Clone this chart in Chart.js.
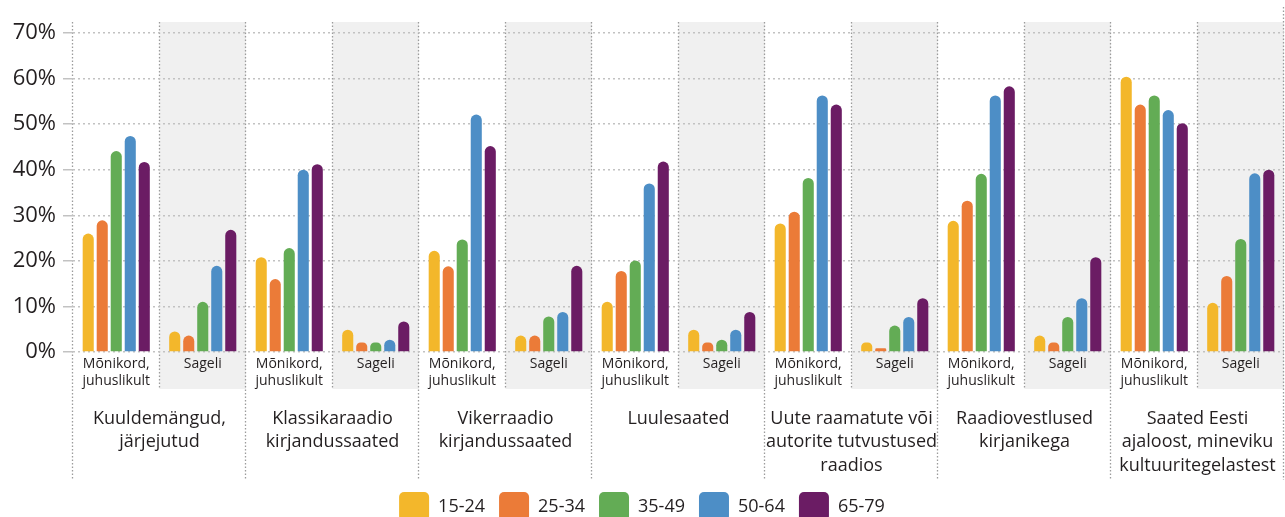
<!DOCTYPE html>
<html>
<head>
<meta charset="utf-8">
<script src="https://cdn.jsdelivr.net/npm/chart.js@4.4.1/dist/chart.umd.min.js"></script>
<style>
  html, body { margin: 0; padding: 0; background: #fff; }
  #wrap { width: 1285px; height: 517px; }
</style>
</head>
<body>
<div id="wrap"><canvas id="chart"></canvas></div>
<script>
// Kirjandussaadete kuulamine vanuserühmade kaupa

// ─── ANDMED ─────────────────────────────────────────────────────────────
const subLabels = [
  ['Mõnikord,', 'juhuslikult'], 'Sageli',
  ['Mõnikord,', 'juhuslikult'], 'Sageli',
  ['Mõnikord,', 'juhuslikult'], 'Sageli',
  ['Mõnikord,', 'juhuslikult'], 'Sageli',
  ['Mõnikord,', 'juhuslikult'], 'Sageli',
  ['Mõnikord,', 'juhuslikult'], 'Sageli',
  ['Mõnikord,', 'juhuslikult'], 'Sageli'
];

const categories = [
  ['Kuuldemängud,', 'järjejutud'],
  ['Klassikaraadio', 'kirjandussaated'],
  ['Vikerraadio', 'kirjandussaated'],
  ['Luulesaated'],
  ['Uute raamatute või', 'autorite tutvustused', 'raadios'],
  ['Raadiovestlused', 'kirjanikega'],
  ['Saated Eesti', 'ajaloost, mineviku', 'kultuuritegelastest']
];

const ageGroups = ['15-24', '25-34', '35-49', '50-64', '65-79'];

const age1524 = [26, 4.5, 20.8, 4.9, 22.2, 3.6, 11, 4.9, 28.2, 2.1, 28.8, 3.6, 60.4, 10.8];
const age2534 = [28.9, 3.6, 16, 2.1, 18.8, 3.6, 17.8, 2.1, 30.8, 0.8, 33.2, 2.1, 54.3, 16.7];
const age3549 = [44.1, 11, 22.8, 2.1, 24.7, 7.8, 20.1, 2.7, 38.2, 5.8, 39.1, 7.7, 56.3, 24.8];
const age5064 = [47.4, 18.9, 40, 2.7, 52.1, 8.8, 37, 4.9, 56.3, 7.7, 56.3, 11.8, 53.1, 39.2];
const age6579 = [41.7, 26.8, 41.2, 6.7, 45.2, 18.9, 41.8, 8.8, 54.3, 11.8, 58.3, 20.8, 50.2, 40];

const colors = ['#f3b72b', '#eb7b38', '#63ac55', '#4d8ec6', '#6b1c64'];

const yTicks = [0, 10, 20, 30, 40, 50, 60, 70];

const FONT = "'Open Sans', 'Noto Sans', sans-serif";
const TEXT = '#231f20';

// ─── TAUST: hallid "Sageli" veerud ja punktiirjooned ────────────────────
const backdrop = {
  id: 'backdrop',
  beforeDraw(chart) {
    const { ctx, chartArea, scales: { x } } = chart;
    const w = (chartArea.right - chartArea.left) / subLabels.length;
    const top = chartArea.top - 11;

    ctx.save();
    ctx.fillStyle = '#f0f0f0';
    subLabels.forEach((l, i) => {
      if (i % 2 === 1) {
        ctx.fillRect(x.getPixelForValue(i) - w / 2, top, w, chartArea.bottom + 37 - top);
      }
    });

    ctx.strokeStyle = '#9c9c9c';
    ctx.lineWidth = 1.3;
    ctx.setLineDash([1.5, 2]);
    for (let k = 0; k <= subLabels.length; k++) {
      const px = Math.round(chartArea.left + k * w) - 0.5;
      const major = k % 2 === 0;
      const y0 = k === subLabels.length ? 7 : top;
      const y1 = major ? chartArea.bottom + 128 : chartArea.bottom + 37;
      ctx.beginPath();
      ctx.moveTo(px, y0);
      ctx.lineTo(px, y1);
      ctx.stroke();
    }
    ctx.restore();
  }
};

// ─── GRAAFIK ────────────────────────────────────────────────────────────
const series = [age1524, age2534, age3549, age5064, age6579];

new Chart(document.getElementById('chart'), {
  type: 'bar',
  data: {
    labels: subLabels,
    datasets: series.map((data, i) => ({
      label: ageGroups[i],
      data,
      backgroundColor: colors[i],
      borderRadius: 8,
      borderSkipped: 'start',
      categoryPercentage: 0.81,
      barPercentage: 0.79
    }))
  },
  options: {
    responsive: true,
    maintainAspectRatio: false,
    animation: false,
    layout: { padding: { top: 33, right: 1, left: 0, bottom: -14 } },
    plugins: {
      tooltip: { enabled: false },
      legend: {
        position: 'bottom',
        labels: {
          boxWidth: 30,
          boxHeight: 29,
          useBorderRadius: true,
          borderRadius: 5,
          padding: 14,
          color: TEXT,
          font: { family: FONT, size: 18 }
        }
      }
    },
    scales: {
      x: {
        weight: 0,
        grid: { display: false, drawTicks: false },
        border: { display: false },
        ticks: {
          autoSkip: false,
          maxRotation: 0,
          padding: 3,
          color: TEXT,
          font: { family: FONT, size: 14, lineHeight: 1.25 }
        },
        afterFit: s => { s.height = 50; }
      },
      x2: {
        type: 'category',
        labels: categories,
        position: 'bottom',
        weight: 1,
        offset: true,
        grid: { display: false, drawTicks: false },
        border: { display: false },
        ticks: {
          autoSkip: false,
          maxRotation: 0,
          padding: 5,
          color: TEXT,
          font: { family: FONT, size: 18, lineHeight: 1.3 }
        },
        afterFit: s => { s.height = 76; }
      },
      y: {
        min: 0,
        max: 70,
        afterBuildTicks: s => { s.ticks = yTicks.map(v => ({ value: v })); },
        grid: {
          color: '#c2c2c2',
          lineWidth: 1.5,
          tickLength: 10,
          tickColor: '#c2c2c2'
        },
        border: { display: false, dash: [2, 3] },
        ticks: {
          padding: 7,
          color: TEXT,
          font: { family: FONT, size: 22 },
          callback: v => v + '%'
        },
        afterFit: s => { s.width = 73; }
      }
    }
  },
  plugins: [backdrop]
});
</script>
</body>
</html>
